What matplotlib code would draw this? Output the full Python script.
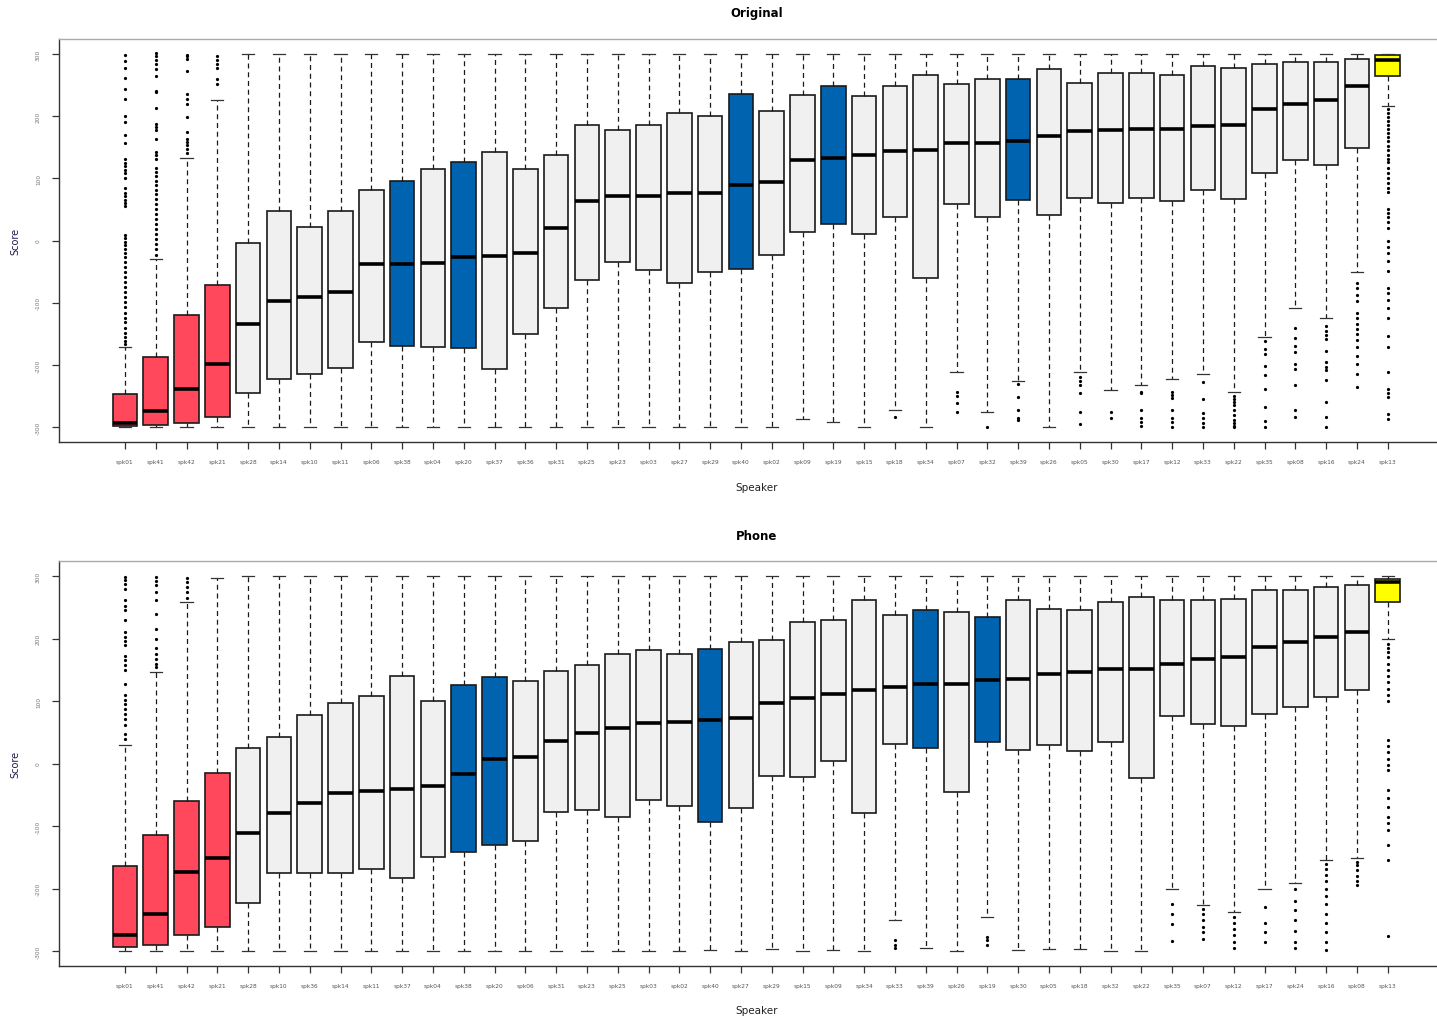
import matplotlib
matplotlib.use("Agg")
import matplotlib.pyplot as plt
import numpy as np

# ---------------- data: top panel "Original" ----------------
top_labels = ["spk01", "spk41", "spk42", "spk21", "spk28", "spk14", "spk10", "spk11", "spk06", "spk38",
              "spk04", "spk20", "spk37", "spk36", "spk31", "spk25", "spk23", "spk03", "spk27", "spk29",
              "spk40", "spk02", "spk09", "spk19", "spk15", "spk18", "spk34", "spk07", "spk32", "spk39",
              "spk26", "spk05", "spk30", "spk17", "spk12", "spk33", "spk22", "spk35", "spk08", "spk16",
              "spk24", "spk13"]
top_q1 = [-299, -296, -293, -283, -246, -223, -214, -205, -163, -170, -171, -173, -206, -150, -108, -63,
          -34, -47, -68, -50, -46, -24, 13, 26, 10, 38, -61, 58, 37, 65, 41, 68, 61, 68, 64, 81, 67, 108,
          129, 121, 148, 265]
top_med = [-293, -274, -239, -199, -134, -98, -91, -83, -38, -38, -36, -27, -25, -20, 20, 64, 72, 72, 76,
           76, 89, 94, 130, 133, 137, 144, 145, 157, 157, 160, 168, 176, 177, 180, 180, 184, 186, 212, 219,
           226, 248, 291]
top_q3 = [-247, -188, -120, -72, -4, 48, 21, 48, 81, 96, 115, 126, 142, 115, 138, 186, 177, 186, 205, 200,
          235, 209, 234, 249, 232, 249, 266, 252, 260, 260, 276, 254, 270, 270, 266, 280, 277, 283, 287, 287,
          292, 298]
top_whislo = [-300, -300, -300, -300, -300, -300, -300, -300, -300, -300, -300, -300, -300, -300, -300,
              -300, -300, -300, -300, -300, -300, -300, -287, -292, -300, -273, -300, -212, -276, -226, -300,
              -211, -240, -232, -223, -215, -244, -155, -108, -124, -50, 217]
top_whishi = [-172, -29, 133, 226, 300, 300, 300, 300, 300, 300, 300, 300, 300, 300, 300, 300, 300, 300,
              300, 300, 300, 300, 300, 300, 300, 300, 300, 300, 300, 300, 300, 300, 300, 300, 300, 300, 300,
              300, 300, 300, 300, 300]
top_fliers = {
    "spk01": [298, 289, 278, 262, 244, 227, 200, 190, 169, 156, 131, 125, 120, 114, 108, 100, 84, 77, 71,
              65, 60, 55, 9, 4, -2, -7, -13, -20, -27, -35, -43, -51, -58, -66, -75, -83, -91, -99, -107,
              -116, -124, -131, -140, -148, -155, -162, -167],
    "spk41": [302, 296, 290, 283, 276, 264, 241, 238, 213, 188, 183, 177, 163, 142, 137, 131, 116, 110, 103,
              96, 90, 82, 75, 66, 58, 50, 42, 34, 26, 18, 10, 2, -6, -14, -23],
    "spk42": [299, 296, 292, 273, 236, 228, 220, 198, 174, 163, 158, 153, 147, 140],
    "spk21": [297, 291, 284, 278, 260, 252],
    "spk18": [-284],
    "spk07": [-244, -250, -262, -275],
    "spk32": [-300],
    "spk39": [-231, -251, -272, -285, -288],
    "spk05": [-220, -226, -233, -245, -275, -295],
    "spk30": [-275, -285],
    "spk17": [-243, -246, -272, -285, -292, -298],
    "spk12": [-244, -249, -254, -272, -285, -292, -300],
    "spk33": [-228, -255, -278, -286, -293, -300],
    "spk22": [-250, -255, -260, -265, -272, -280, -288, -293, -298, -300],
    "spk35": [-161, -174, -182, -201, -217, -239, -268, -290, -300],
    "spk08": [-140, -156, -169, -180, -199, -206, -233, -273, -284],
    "spk16": [-137, -145, -152, -159, -177, -196, -203, -209, -225, -259, -283, -300],
    "spk24": [-68, -76, -87, -98, -116, -124, -135, -143, -151, -160, -172, -185, -199, -215, -235],
    "spk13": [212, 205, 198, 192, 186, 180, 173, 166, 160, 152, 145, 138, 131, 126, 116, 108, 100, 92, 85,
              78, 51, 45, 38, 30, 20, -1, -10, -20, -33, -49, -76, -85, -95, -108, -124, -153, -172, -212,
              -239, -246, -252, -279, -287],
}

# ---------------- data: bottom panel "Phone" ----------------
bot_labels = ["spk01", "spk41", "spk42", "spk21", "spk28", "spk10", "spk36", "spk14", "spk11", "spk37",
              "spk04", "spk38", "spk20", "spk06", "spk31", "spk23", "spk25", "spk03", "spk02", "spk40",
              "spk27", "spk29", "spk15", "spk09", "spk34", "spk33", "spk39", "spk26", "spk19", "spk30",
              "spk05", "spk18", "spk32", "spk22", "spk35", "spk07", "spk12", "spk17", "spk24", "spk16",
              "spk08", "spk13"]
bot_q1 = [-294, -290, -274, -262, -223, -175, -175, -175, -168, -183, -149, -141, -130, -124, -77, -74, -85,
          -58, -68, -93, -71, -20, -22, 4, -79, 31, 25, -46, 34, 22, 30, 20, 34, -23, 76, 63, 60, 79, 90,
          106, 117, 258]
bot_med = [-275, -240, -173, -151, -111, -79, -63, -47, -44, -41, -36, -17, 7, 10, 36, 49, 57, 65, 66, 69,
           73, 97, 105, 112, 117, 122, 127, 128, 133, 136, 143, 146, 151, 152, 160, 167, 170, 187, 194, 202,
           211, 290]
bot_q3 = [-164, -114, -60, -15, 25, 42, 77, 97, 108, 140, 100, 125, 138, 132, 148, 157, 175, 181, 175, 184,
          195, 197, 227, 230, 261, 237, 246, 242, 235, 262, 248, 246, 258, 267, 261, 261, 264, 277, 278, 283,
          286, 296]
bot_whislo = [-300, -300, -300, -300, -300, -300, -300, -300, -300, -300, -300, -300, -300, -300, -300,
              -300, -300, -300, -300, -298, -300, -297, -300, -298, -300, -251, -295, -300, -246, -298, -297,
              -296, -300, -300, -200, -227, -238, -200, -191, -154, -151, 200]
bot_whishi = [30, 146, 259, 297, 300, 300, 300, 300, 300, 300, 300, 300, 300, 300, 300, 300, 300, 300, 300,
              300, 300, 300, 300, 300, 300, 300, 300, 300, 300, 300, 300, 300, 300, 300, 300, 300, 300, 300,
              300, 300, 300, 300]
bot_fliers = {
    "spk01": [298, 293, 288, 280, 262, 252, 245, 230, 210, 203, 196, 190, 172, 165, 158, 150, 128, 110, 102,
              95, 88, 80, 72, 62, 48, 40],
    "spk41": [298, 292, 285, 275, 262, 240, 215, 200, 185, 175, 168, 160, 155],
    "spk42": [297, 290, 283, 275, 265],
    "spk33": [-282, -290, -295],
    "spk19": [-277, -283, -290],
    "spk35": [-224, -240, -256, -284],
    "spk07": [-232, -240, -250, -262, -270, -280],
    "spk12": [-245, -255, -265, -275, -285, -295],
    "spk17": [-230, -255, -270, -285],
    "spk24": [-200, -220, -235, -250, -268, -285, -295],
    "spk16": [-160, -168, -178, -188, -200, -212, -225, -240, -255, -270, -285, -298],
    "spk08": [-157, -163, -170, -180, -188, -194],
    "spk13": [192, 185, 178, 170, 160, 150, 140, 130, 120, 110, 100, 37, 28, 18, 8, -2, -10, -42, -55, -70,
              -85, -95, -106, -130, -154, -276],
}

red_spk = ["spk01", "spk41", "spk42", "spk21"]
blue_spk = ["spk38", "spk20", "spk40", "spk19", "spk39"]
yellow_spk = ["spk13"]

RED, BLUE, YEL, GREY = "#FF485B", "#0063AF", "#FFFF00", "#F0F0F0"


def color_for(lab):
    if lab in red_spk:
        return RED
    if lab in blue_spk:
        return BLUE
    if lab in yellow_spk:
        return YEL
    return GREY


W, H = 1437, 1020
fig = plt.figure(figsize=(W / 100, H / 100), dpi=100)


def panel(rect, labels, q1, med, q3, wlo, whi, fliers, title, title_y, xlab_y):
    ax = fig.add_axes(rect)
    stats = []
    for i, lab in enumerate(labels):
        stats.append(dict(med=med[i], q1=q1[i], q3=q3[i], whislo=wlo[i], whishi=whi[i],
                          fliers=np.array(fliers.get(lab, []), dtype=float)))
    pos = np.arange(1, len(labels) + 1)
    res = ax.bxp(stats, positions=pos, widths=0.8, patch_artist=True, showfliers=True,
                 boxprops=dict(edgecolor="#1a1a1a", linewidth=1.2),
                 medianprops=dict(color="black", linewidth=2.6, solid_capstyle="butt"),
                 whiskerprops=dict(color="#1a1a1a", linewidth=0.9, linestyle=(0, (4, 3))),
                 capprops=dict(color="#333333", linewidth=0.9),
                 flierprops=dict(marker="o", markersize=1.3, markerfacecolor="black",
                                 markeredgecolor="black", linestyle="none"))
    for patch, lab in zip(res["boxes"], labels):
        patch.set_facecolor(color_for(lab))
    for c in res["caps"]:
        xd = c.get_xdata()
        m = (xd[0] + xd[1]) / 2
        c.set_xdata([m - 0.2, m + 0.2])
    ax.set_xlim(-1.14, 43.6)
    ax.set_ylim(-324, 324)
    ax.set_xticks(pos)
    ax.set_xticklabels(labels, fontsize=4.2, color="#555555")
    ax.set_yticks([-300, -200, -100, 0, 100, 200, 300])
    ax.set_yticklabels(["-300", "-200", "-100", "0", "100", "200", "300"], fontsize=4.2,
                       color="#777777", rotation=90, va="center")
    ax.tick_params(axis="x", direction="out", length=5, width=0.9, pad=7, colors="#333333",
                   labelcolor="#555555")
    ax.tick_params(axis="y", direction="out", length=5, width=0.9, pad=8, colors="#333333",
                   labelcolor="#777777")
    for s in ["left", "bottom"]:
        ax.spines[s].set_color("#333333")
        ax.spines[s].set_linewidth(1.0)
    ax.spines["top"].set_color("#aaaaaa")
    ax.spines["top"].set_linewidth(1.0)
    ax.spines["right"].set_visible(False)
    fig.text(757 / W, 1 - title_y / H, title, ha="center", va="center", fontsize=8.5,
             fontweight="bold", color="black")
    fig.text(757 / W, 1 - xlab_y / H, "Speaker", ha="center", va="center", fontsize=7.5,
             color="#222222")
    cy = (rect[1] + rect[3] / 2)
    fig.text(15 / W, cy, "Score", ha="center", va="center", rotation=90, fontsize=7,
             color="#1a1a4a")
    return ax


left = 59 / W
width = 1 - left
panel([left, 1 - 443 / H, width, (443 - 40) / H], top_labels, top_q1, top_med, top_q3,
      top_whislo, top_whishi, top_fliers, "Original", 14, 488)
panel([left, 1 - 967 / H, width, (967 - 562) / H], bot_labels, bot_q1, bot_med, bot_q3,
      bot_whislo, bot_whishi, bot_fliers, "Phone", 537, 1011)

fig.savefig("out.png", dpi=100)
